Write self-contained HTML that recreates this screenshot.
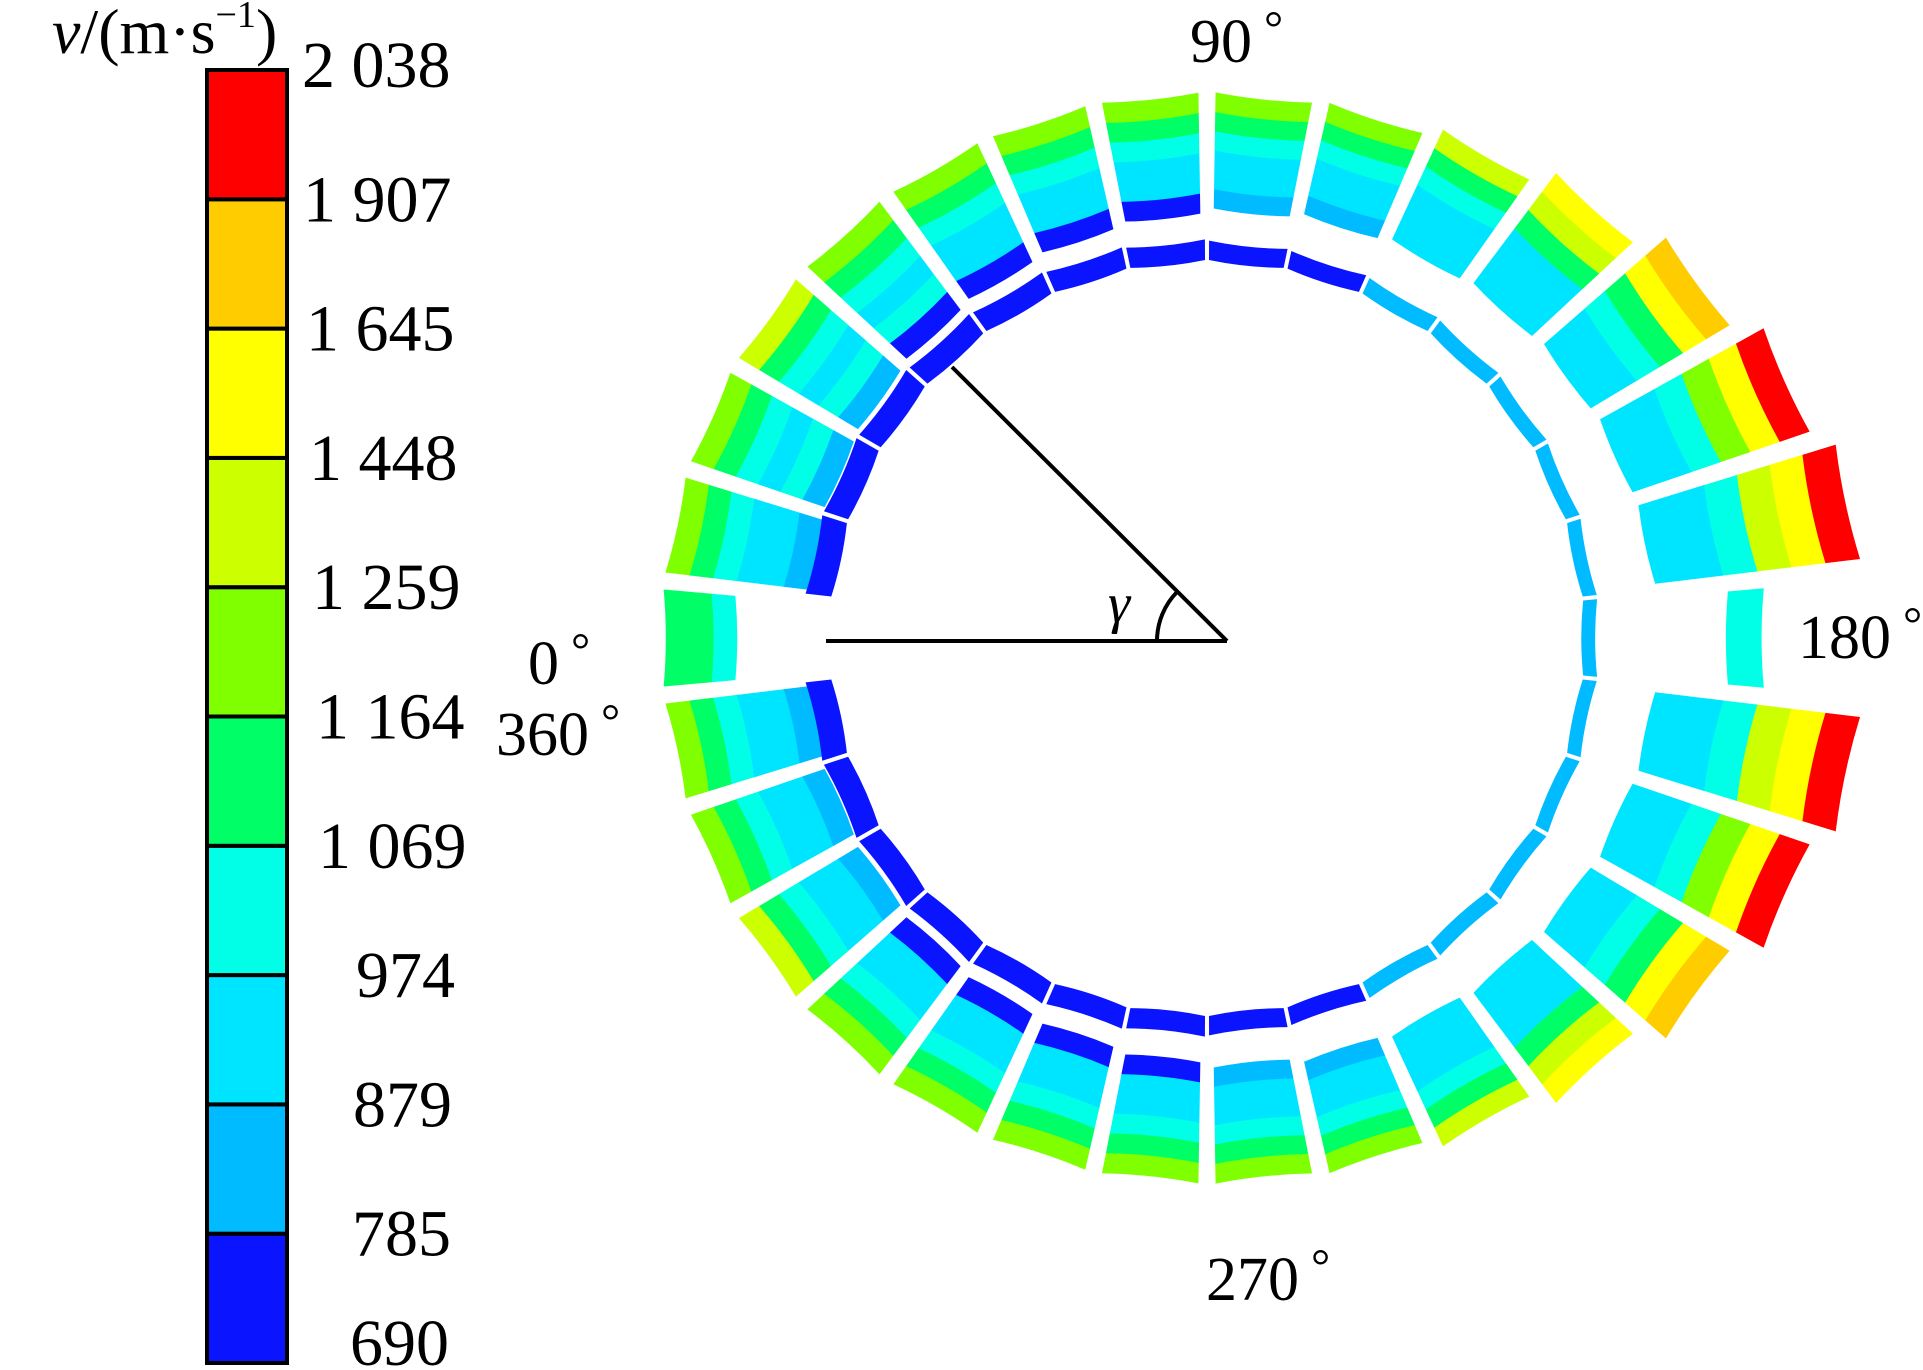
<!DOCTYPE html>
<html><head><meta charset="utf-8">
<style>
html,body{margin:0;padding:0;background:#fff;}
svg{display:block;}
text{font-family:"Liberation Serif",serif;fill:#000;}
</style></head>
<body>
<svg id="chart" width="1923" height="1370" viewBox="0 0 1923 1370" xmlns="http://www.w3.org/2000/svg">
  <g id="colorbar"></g>
  <g id="ring"></g>
  <g>
    <line x1="826" y1="641" x2="1227" y2="641" stroke="#000" stroke-width="4"/>
    <line x1="952" y1="367" x2="1227" y2="641" stroke="#000" stroke-width="4"/>
    <path d="M1157 641 A70 70 0 0 1 1177.5 591.5" fill="none" stroke="#000" stroke-width="4"/>
    <text x="1108" y="622" font-size="56" font-style="italic">γ</text>
  </g>
  <text x="52" y="53" font-size="64"><tspan font-style="italic">v</tspan>/(m·s<tspan font-size="38" dy="-26">−1</tspan><tspan dy="26">)</tspan></text>
  <text x="1190" y="62" font-size="62">90<tspan font-size="48" dy="-18"> °</tspan></text>
  <text x="1798" y="658" font-size="62">180<tspan font-size="48" dy="-18"> °</tspan></text>
  <text x="528" y="684" font-size="62">0<tspan font-size="48" dy="-18"> °</tspan></text>
  <text x="496" y="755" font-size="62">360<tspan font-size="48" dy="-18"> °</tspan></text>
  <text x="1206" y="1300" font-size="62">270<tspan font-size="48" dy="-18"> °</tspan></text>
</svg>
<script>
// ---- colour scale data ----
const levels = [690, 785, 879, 974, 1069, 1164, 1259, 1448, 1645, 1907, 2038];
const tickLabels = ["690", "785", "879", "974", "1 069", "1 164", "1 259", "1 448", "1 645", "1 907", "2 038"];
const binColors = ["#0a14ff", "#00bbff", "#00e5ff", "#00ffe6", "#00ff66", "#80ff00", "#ccff00", "#ffff00", "#ffcc00", "#ff0000"];

// ---- ring data: sector centre angles (deg) and velocities per radial layer ----
const sectorAngles = [0,12,24,36,48,60,72,84,96,108,120,132,144,156,168,180,192,204,216,228,240,252,264,276,288,300,312,324,336,348];
const layer1b = [null,850,820,800,760,780,740,760,800,830,880,900,900,900,900,null,900,900,900,900,880,830,800,760,740,780,760,800,820,850];
const layer1 = [null,900,1000,1000,1000,900,900,900,900,900,900,900,900,900,900,null,900,900,900,900,900,900,900,900,900,900,900,900,900,900];
const layer2 = [null,950,880,900,880,900,900,930,930,930,950,950,980,1000,1000,1000,1000,1000,980,950,950,930,930,930,900,900,880,900,880,950];
const layer3 = [1050,1000,1000,1000,1050,1000,1050,1050,1050,1000,1050,1100,1150,1200,1300,null,1300,1200,1150,1100,1050,1000,1050,1050,1050,1000,1050,1000,1000,1000];
const layer4 = [1120,1120,1150,1120,1150,1120,1120,1150,1120,1120,1150,1300,1500,1600,1500,null,1500,1600,1500,1300,1150,1120,1120,1150,1120,1120,1150,1120,1150,1120];
const layer5 = [1150,1200,1250,1300,1250,1200,1200,1200,1180,1200,1300,1500,1800,1950,1950,null,1950,1950,1800,1500,1300,1200,1180,1200,1200,1200,1250,1300,1250,1200];
const ringV = [null,700,720,720,720,730,740,740,740,760,800,820,830,840,850,860,850,840,830,820,800,760,740,740,740,730,720,720,720,700];

const NS = "http://www.w3.org/2000/svg";
function colorFor(v){
  for (let i = 0; i < binColors.length; i++) if (v < levels[i+1]) return binColors[i];
  return binColors[binColors.length-1];
}
// ---- colorbar ----
const cb = document.getElementById('colorbar');
const cbX = 207, cbW = 80, cbTop = 70, cbBot = 1363;
const nb = binColors.length, segH = (cbBot - cbTop) / nb;
function cbY(i){ return cbBot - i * segH; }
for (let i = 0; i < nb; i++) {
  const r = document.createElementNS(NS, 'rect');
  
  
  r.setAttribute('x', cbX); r.setAttribute('y', cbY(i+1));
  r.setAttribute('width', cbW); r.setAttribute('height', segH);
  r.setAttribute('fill', binColors[i]); r.setAttribute('stroke', '#000'); r.setAttribute('stroke-width', '4');
  cb.appendChild(r);
}
const labelX = [350,352,353,356,318,316,312,309,306,303,302];
for (let i = 0; i < levels.length; i++) {
  const t = document.createElementNS(NS, 'text');
  
  
  let y = cbY(i) + 22;
  if (i === 0) y = cbBot + 2; if (i === levels.length - 1) y = cbTop + 17;
  t.setAttribute('x', labelX[i]); t.setAttribute('y', y);
  t.setAttribute('font-size', '66');
  t.textContent = tickLabels[i];
  cb.appendChild(t);
}
// ---- ring ----
const ring = document.getElementById('ring');
const cx = 1207, cy = 638;
function pt(a, r){ const t = a * Math.PI / 180; return [cx - r * Math.cos(t), cy - r * Math.sin(t)]; }
function sector(a0, a1, r0, r1){
  const p0 = pt(a0, r0), p1 = pt(a1, r0), p2 = pt(a1, r1), p3 = pt(a0, r1);
  return `M${p0[0]} ${p0[1]} A${r0} ${r0} 0 0 0 ${p1[0]} ${p1[1]} L${p2[0]} ${p2[1]} A${r1} ${r1} 0 0 1 ${p3[0]} ${p3[1]} Z`;
}
function outerR(a){ const c = Math.max(0, -Math.cos(a*Math.PI/180)); return 545 + 120 * Math.pow(c, 3); }
function innerR(a){ const c = (1 - Math.cos(a*Math.PI/180)) / 2; return 402 + 50 * c; }
function ringW(a){ const c = (1 + Math.cos(a*Math.PI/180)) / 2; return 14 + 12 * c; }
function addPath(d, fill, name){
  const p = document.createElementNS(NS, 'path');
  
  
  p.setAttribute('d', d); p.setAttribute('fill', fill);
  ring.appendChild(p);
}
const layers = [layer1b, layer1, layer2, layer3, layer4, layer5];
const step = 12, half = 5.1;
sectorAngles.forEach((a, k) => {
  const a0 = a - half, a1 = a + half;
  const r0 = innerR(a), r1 = outerR(a), dr = (r1 - r0) / layers.length;
  layers.forEach((L, j) => {
    const v = L[k];
    if (v === null) return;
    addPath(sector(a0, a1, r0 + j*dr, r0 + (j+1)*dr + 0.5), colorFor(v), 'blade-cell');
  });
  if (ringV[k] !== null) {
    addPath(sector(a - step/2 + 0.3, a + step/2 - 0.3, 378, 378 + ringW(a)), colorFor(ringV[k]), 'inner-ring-segment');
  }
});
</script>
</body></html>
